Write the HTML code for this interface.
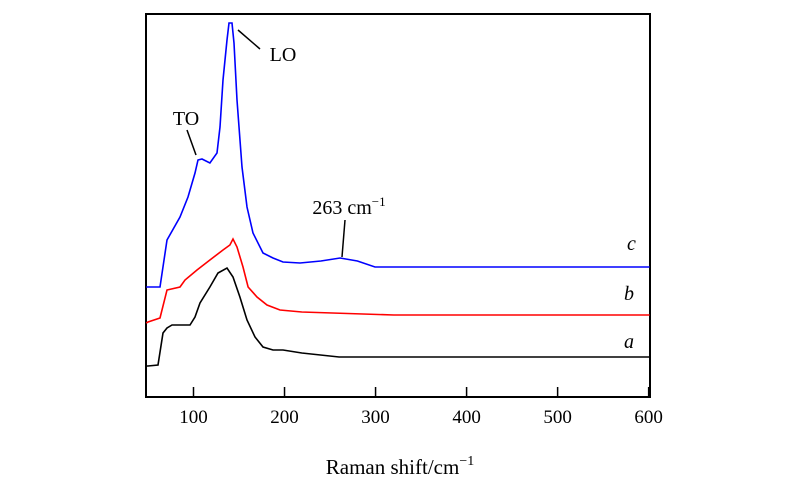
<!DOCTYPE html>
<html><head><meta charset="utf-8"><style>
body{margin:0;background:#fff;}
svg{display:block;font-family:"Liberation Serif",serif;}
</style></head><body>
<svg id="chart" width="800" height="493">
<rect x="146" y="14" width="504" height="383" fill="none" stroke="#000" stroke-width="2"/>
<g id="ticks"></g>
<g id="series"></g>
<line x1="187" y1="130" x2="196" y2="155" stroke="#000" stroke-width="1.5"/>
<text x="186" y="125" font-size="20" text-anchor="middle">TO</text>
<line x1="238" y1="30" x2="260" y2="49" stroke="#000" stroke-width="1.5"/>
<text x="283" y="61" font-size="20" text-anchor="middle">LO</text>
<line x1="345" y1="220" x2="342" y2="257" stroke="#000" stroke-width="1.5"/>
<text x="349" y="214" font-size="20" text-anchor="middle">263 cm<tspan font-size="13" dy="-8">−1</tspan></text>
<text x="627" y="250" font-size="20" font-style="italic">c</text>
<text x="624" y="300" font-size="20" font-style="italic">b</text>
<text x="624" y="348" font-size="20" font-style="italic">a</text>
<text x="400" y="474" font-size="21" text-anchor="middle">Raman shift/cm<tspan font-size="14" dy="-9">−1</tspan></text>
</svg>
<script>
const xTicks=[100,200,300,400,500,600];
const xA=[48,50,61,66.5,70.9,76.4,96.2,101.6,107.1,118,126.9,136.8,143.4,151,158.8,167.6,176.3,187.3,198.3,219,260,300,601];
const yA=[31,31,32,64,69,72,72,80,94,110,124,129,120,100,77,60,50,47,47,44,40,40,40];
const xB=[48,50,63.2,70.9,85.2,90.7,103.8,118,132.4,140,143.4,147.8,154.4,160,169.8,180.7,195,219,320,601];
const yB=[74,75,79,107,110,117,127,137,147,152,158,150,130,110,100,92,87,85,82,82];
const xC=[48,50,63.2,70.9,85.2,94,101.6,104.9,109.3,118,125.8,129.1,132.4,136.8,139,142.3,144.5,147.8,153.3,158.8,165.4,176.3,187.3,198.3,217,240,261,280,299.4,601];
const yC=[110,110,110,157,180,200,224,237,238,234,244,270,317,357,374,374,354,297,230,190,164,144,139,135,134,136,139,136,130,130];
const X=v=>193.5+(v-100)*0.9103;
const Y=v=>397-v;
const NS="http://www.w3.org/2000/svg";
const tg=document.getElementById('ticks');
xTicks.forEach(t=>{
 const l=document.createElementNS(NS,'line');
 l.setAttribute('x1',X(t));l.setAttribute('x2',X(t));l.setAttribute('y1',397);l.setAttribute('y2',387);
 l.setAttribute('stroke','#000');l.setAttribute('stroke-width','1.5');
 
 
 tg.appendChild(l);
 const tx=document.createElementNS(NS,'text');
 tx.setAttribute('x',X(t));tx.setAttribute('y',423);tx.setAttribute('font-size','19');tx.setAttribute('text-anchor','middle');
 tx.textContent=t;
 
 
 tg.appendChild(tx);
});
const sg=document.getElementById('series');
[[xA,yA,'#000','series-a-line'],[xB,yB,'#f00','series-b-line'],[xC,yC,'#00f','series-c-line']].forEach(s=>{
 const p=document.createElementNS(NS,'polyline');
 p.setAttribute('points',s[0].map((x,i)=>X(x).toFixed(1)+','+Y(s[1][i]).toFixed(1)).join(' '));
 p.setAttribute('fill','none');p.setAttribute('stroke',s[2]);p.setAttribute('stroke-width','1.6');
 
 
 sg.appendChild(p);
});
</script>
</body></html>
